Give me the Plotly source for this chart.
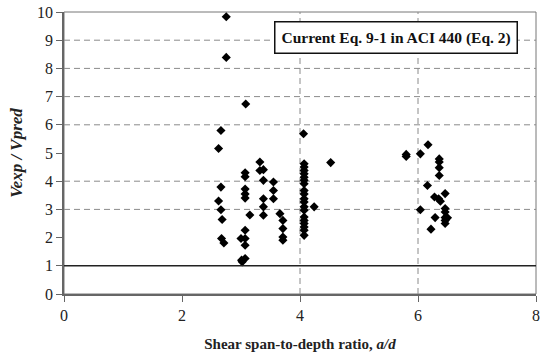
import plotly.graph_objects as go

# Data (a/d, Vexp/Vpred)
ad = [2.75, 2.75, 3.08, 2.66, 2.62, 4.06, 4.52,
      2.66, 2.62, 2.66, 2.68, 2.67, 2.71,
      3.07, 3.07, 3.07, 3.07, 3.07, 3.07, 3.07, 3.07, 3.07, 3.01, 3.02, 3.0, 3.15,
      3.32, 3.38, 3.32, 3.38, 3.38, 3.38, 3.38,
      3.55, 3.55, 3.55, 3.66, 3.71, 3.71, 3.71, 3.71,
      4.07, 4.07, 4.07, 4.07, 4.07, 4.07, 4.07, 4.07, 4.07, 4.07, 4.07, 4.07, 4.07,
      4.07, 4.07, 4.07, 4.07, 4.07, 4.07, 4.24,
      5.80, 5.80, 6.04, 6.17, 6.36, 6.36, 6.36, 6.36, 6.16, 6.28, 6.35, 6.38, 6.46,
      6.04, 6.46, 6.46, 6.46, 6.46, 6.46, 6.50, 6.29, 6.22]
ratio = [9.83, 8.39, 6.74, 5.80, 5.16, 5.68, 4.66,
         3.79, 3.30, 2.99, 2.64, 1.97, 1.81,
         4.30, 4.16, 3.72, 3.55, 3.40, 2.26, 1.97, 1.73, 1.26, 1.20, 1.14, 1.97, 2.80,
         4.68, 4.41, 4.38, 4.03, 3.38, 3.09, 2.79,
         3.97, 3.67, 3.38, 2.85, 2.61, 2.32, 2.02, 1.91,
         4.62, 4.50, 4.38, 4.26, 4.14, 4.03, 3.91, 3.67, 3.55, 3.38, 3.26, 3.09, 2.97,
         2.73, 2.61, 2.50, 2.38, 2.26, 2.08, 3.09,
         4.95, 4.88, 4.97, 5.29, 4.79, 4.68, 4.48, 4.20, 3.85, 3.44, 3.38, 3.29, 3.56,
         2.99, 3.03, 2.91, 2.71, 2.61, 2.50, 2.70, 2.71, 2.30]

grid_y = [3, 4, 6, 7, 8, 9]
grid_x = [4, 6]
ref_line = 1

x_ticks = [0, 2, 4, 6, 8]
y_ticks = list(range(0, 11))

SERIF = "Liberation Serif, Times New Roman, serif"

fig = go.Figure()
fig.add_trace(go.Scatter(
    x=ad, y=ratio, mode="markers",
    marker=dict(symbol="diamond", size=7, color="black", line=dict(width=0)),
    showlegend=False, cliponaxis=False,
))

shapes = []
for gy in grid_y:
    shapes.append(dict(type="line", xref="x", yref="y", x0=0, x1=8, y0=gy, y1=gy,
                       line=dict(color="#8a8a8a", width=1, dash="6px,4px"), layer="below"))
for gx in grid_x:
    shapes.append(dict(type="line", xref="x", yref="y", x0=gx, x1=gx, y0=0, y1=10,
                       line=dict(color="#8a8a8a", width=1, dash="6px,4px"), layer="below"))
shapes.append(dict(type="line", xref="x", yref="y", x0=0, x1=8, y0=ref_line, y1=ref_line,
                   line=dict(color="#222", width=1.5)))
# frame top/right
shapes.append(dict(type="rect", xref="paper", yref="paper", x0=0, x1=1, y0=0, y1=1,
                   line=dict(color="#777", width=1), layer="below"))

fig.update_layout(
    width=544, height=360,
    margin=dict(l=64, r=4, t=11, b=66),
    plot_bgcolor="white", paper_bgcolor="white",
    shapes=shapes,
    font=dict(family=SERIF, size=15, color="#222"),
    xaxis=dict(range=[0, 8], tickvals=x_ticks, showgrid=False, zeroline=False,
               showline=True, linecolor="#666", linewidth=1.5,
               ticks="outside", ticklen=6, tickcolor="#666",
               tickfont=dict(family=SERIF, size=16, color="#222"),
               title=dict(text="<b>Shear span-to-depth ratio, <i>a/d</i></b>",
                          font=dict(family=SERIF, size=15, color="#222"), standoff=16)),
    yaxis=dict(range=[0, 10], tickvals=y_ticks, showgrid=False, zeroline=False,
               showline=True, linecolor="#666", linewidth=1.5,
               ticks="outside", ticklen=6, tickcolor="#666",
               tickfont=dict(family=SERIF, size=16, color="#222"),
               title=dict(text="<b><i>Vexp / Vpred</i></b>",
                          font=dict(family=SERIF, size=17, color="#222"), standoff=10)),
    annotations=[dict(
        text="<b>Current Eq. 9-1 in ACI 440 (Eq. 2)</b>",
        xref="paper", yref="paper", x=0.962, y=0.91, xanchor="right", yanchor="middle",
        showarrow=False, font=dict(family=SERIF, size=15.5, color="#111"),
        bgcolor="white", bordercolor="#111", borderwidth=1.5, borderpad=6,
    )],
)

fig.write_html("out.html")
